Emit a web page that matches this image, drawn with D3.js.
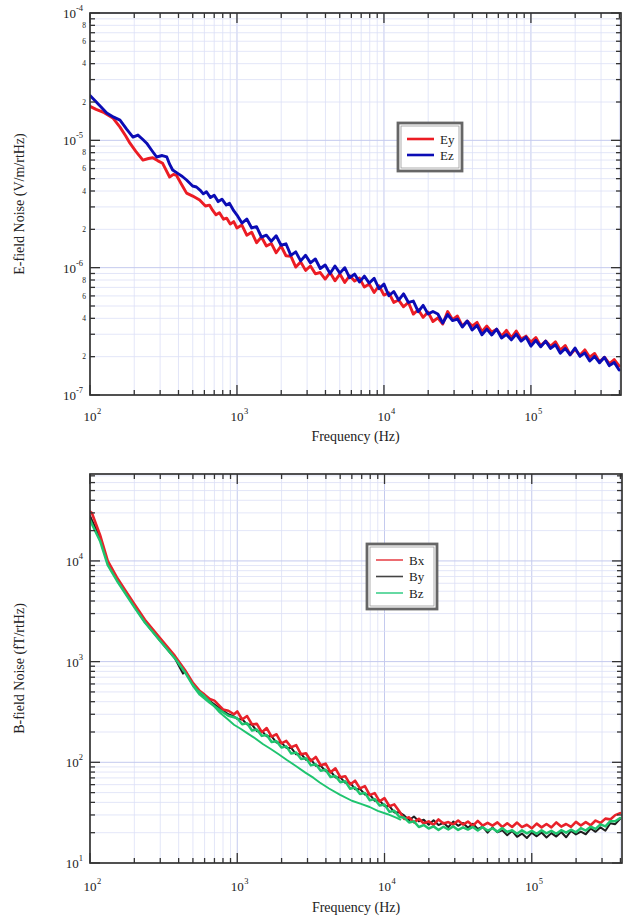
<!DOCTYPE html>
<html><head><meta charset="utf-8">
<script src="https://cdn.jsdelivr.net/npm/d3@7"></script>
<style>body{margin:0;background:#fff} text{font-family:"Liberation Serif","Times New Roman",serif;fill:#222}</style>
</head><body><svg id="c" width="628" height="918"></svg>
<script>
// ---------- shared high-frequency grid (Hz) ----------
const freqHi = [1000,1080,1166,1259,1359,1468,1585,1711,1848,1995,2154,2326,2512,2712,2929,3162,3415,3687,3981,4299,4642,5012,5412,5843,6310,6813,7356,7943,8577,9261,
10000,10800,11660,12590,13590,14680,15850,17110,18480,19950,21540,23260,25120,27120,29290,31620,34150,36870,39810,42990,46420,50120,54120,58430,63100,68130,73560,79430,85770,92610,
100000,108000,116600,125900,135900,146800,158500,171100,184800,199500,215400,232600,251200,271200,292900,316200,341500,368700,398100];

// ---------- E-field (V/m/rtHz) ----------
const eyLowF = [100,110,125,143,160,175,187,205,229,250,267,290,312,330,348,370,388,420,454,500,557,610,650,682,720,760,810,850,900,950];
const eyLow = [1.85e-5,1.75e-5,1.65e-5,1.50e-5,1.27e-5,1.08e-5,9.5e-6,8.2e-6,7.0e-6,7.2e-6,7.3e-6,6.9e-6,6.6e-6,5.8e-6,5.15e-6,5.4e-6,5.3e-6,4.5e-6,3.85e-6,3.65e-6,3.40e-6,3.05e-6,3.10e-6,2.83e-6,2.60e-6,2.70e-6,2.40e-6,2.45e-6,2.20e-6,2.30e-6];
const eyHi = [2.05e-6,2.16e-6,1.80e-6,1.90e-6,1.57e-6,1.74e-6,1.48e-6,1.55e-6,1.31e-6,1.48e-6,
1.24e-6,1.23e-6,1.01e-6,1.11e-6,9.52e-7,1.03e-6,8.95e-7,9.16e-7,8.14e-7,9.16e-7,
7.89e-7,8.90e-7,7.66e-7,8.64e-7,7.85e-7,8.28e-7,7.04e-7,7.43e-7,6.39e-7,7.21e-7,
6.09e-7,6.35e-7,5.33e-7,5.57e-7,4.93e-7,5.33e-7,4.32e-7,4.67e-7,4.07e-7,4.48e-7,
3.78e-7,4.03e-7,3.61e-7,4.52e-7,3.91e-7,4.17e-7,3.48e-7,3.81e-7,3.48e-7,3.72e-7,
3.14e-7,3.48e-7,3.12e-7,3.29e-7,2.90e-7,3.22e-7,2.81e-7,3.18e-7,2.75e-7,2.90e-7,
2.60e-7,2.83e-7,2.43e-7,2.65e-7,2.41e-7,2.62e-7,2.25e-7,2.45e-7,2.07e-7,2.29e-7,
2.05e-7,2.26e-7,1.98e-7,2.12e-7,1.82e-7,1.98e-7,1.76e-7,1.90e-7,1.69e-7];

const ezLowF = [100,115,130,145,160,178,196,212,228,243,262,284,310,333,348,365,395,425,454,499,530,560,590,620,660,700,745,790,846,890,950];
const ezLow = [2.25e-5,1.90e-5,1.64e-5,1.52e-5,1.44e-5,1.22e-5,1.06e-5,1.10e-5,1.02e-5,9.5e-6,8.4e-6,7.4e-6,7.6e-6,7.4e-6,6.5e-6,5.85e-6,5.5e-6,5.2e-6,4.88e-6,4.38e-6,4.3e-6,4.07e-6,3.80e-6,3.95e-6,3.55e-6,3.70e-6,3.30e-6,3.45e-6,3.10e-6,3.20e-6,2.80e-6];
const ezHi = [2.59e-6,2.24e-6,2.41e-6,2.05e-6,2.10e-6,1.74e-6,1.80e-6,1.61e-6,1.78e-6,1.50e-6,
1.54e-6,1.25e-6,1.33e-6,1.13e-6,1.25e-6,1.09e-6,1.17e-6,9.85e-7,1.05e-6,9.00e-7,
1.03e-6,9.06e-7,1.00e-6,8.33e-7,8.90e-7,7.71e-7,8.59e-7,7.57e-7,8.24e-7,6.83e-7,
7.43e-7,6.02e-7,6.50e-7,5.57e-7,6.23e-7,5.33e-7,5.47e-7,4.51e-7,5.06e-7,4.32e-7,
4.53e-7,4.33e-7,3.68e-7,4.28e-7,3.84e-7,3.95e-7,3.42e-7,3.81e-7,3.24e-7,3.52e-7,
2.97e-7,3.29e-7,2.96e-7,3.29e-7,2.80e-7,2.99e-7,2.71e-7,3.01e-7,2.65e-7,2.85e-7,
2.42e-7,2.69e-7,2.39e-7,2.65e-7,2.32e-7,2.48e-7,2.13e-7,2.32e-7,2.07e-7,2.34e-7,
2.01e-7,2.14e-7,1.85e-7,2.01e-7,1.79e-7,1.98e-7,1.70e-7,1.80e-7,1.57e-7];

// ---------- B-field (fT/rtHz) ----------
const bxLowF = [100,103,117,132,152,173,202,236,298,377,440,500,557,600,651,700,761,800,870,950];
const bxLow = [31000,29900,18100,10000,6900,5150,3650,2600,1720,1140,830,615,510,470,425,410,362,335,325,300];
const bxHi = [320,266,288,238,241,199,219,180,190,154,
163,141,148,120,123,103,113,93.7,96.9,79.5,
87.2,71.2,72.8,60.3,65.6,55.1,58.0,47.2,49.4,40.9,
44.1,36.6,38.2,32.7,27.4,28.4,25.3,27.5,24.7,25.9,
23.9,27.1,24.7,25.5,24.1,26.4,24.1,25.8,23.4,26.2,
23.5,25.1,23.5,25.3,22.8,24.8,22.8,25.2,22.7,24.0,
22.1,24.6,22.6,24.4,22.6,25.3,23.0,24.4,22.8,25.6,
23.6,25.5,23.7,26.4,25.0,27.6,27.1,29.9,31.3];

const byLowF = [100,117,132,152,173,202,236,298,377,428,445,500,557,651,761,870,950];
const byLow = [28000,17000,9500,6600,4900,3480,2470,1630,1080,760,800,585,485,405,344,300,285];
const byHi = [270,268,238,237,204,205,181,181,157,157,
139,139,120,121,106,107,92.2,92.5,81.6,81.8,
70.7,71.0,62.5,62.7,54.1,54.4,47.9,48.0,41.5,41.7,
36.8,36.8,31.8,31.9,29.7,26.6,29.0,25.9,26.9,24.0,
26.6,23.8,25.1,22.7,25.8,23.4,25.0,22.4,24.5,21.8,
22.9,20.0,22.6,20.2,21.1,18.9,20.8,18.2,19.6,17.7,
20.0,18.4,20.1,17.9,19.8,18.3,20.3,18.0,20.8,19.2,
20.5,19.3,22.0,20.4,22.6,20.9,24.8,24.3,27.5];

const bzLowF = [100,117,132,152,173,202,236,298,377,440,500,557,651,761,870,950];
const bzLow = [25500,15800,9100,6400,4800,3400,2450,1620,1080,790,580,470,390,330,290,280];
const bzHi = [274,239,244,207,212,183,187,159,162,140,
144,122,125,108,110,93.2,95.5,82.5,84.4,71.4,
73.2,63.3,64.7,54.7,56.1,48.5,49.7,42.0,43.1,37.2,
38.1,32.2,33.0,28.8,28.2,25.3,25.9,22.8,23.8,22.0,
23.1,21.3,22.9,21.5,23.1,21.3,22.6,21.5,22.8,21.0,
22.7,21.0,22.1,20.5,22.2,20.3,21.2,19.5,21.1,19.7,
20.9,19.5,21.1,19.7,20.9,19.5,21.2,20.0,21.4,20.2,
22.2,21.0,22.9,21.8,24.2,23.1,26.0,26.0,28.0];
// second Bz sweep (500 Hz - 13 kHz)
const bz2F = [500,531,600,680,760,850,950,1060,1160,1300,1500,1700,1900,2160,2500,2900,3300,3630,4200,5000,6000,7000,7930,9000,10500,12100,12800];
const bz2 = [590,530,455,375,312,272,236,214,196,176,151,135,121,106,92,79,70,63,55,47.5,41.5,38.5,36,33,30.5,28,27];

const eLegend = ["Ey","Ez"];
const bLegend = ["Bx","By","Bz"];

// ---------- drawing ----------
const svg = d3.select('#c');
svg.append('rect').attr('width',628).attr('height',918).attr('fill','#fff');
const isMaj = v => Math.abs(Math.log10(v) - Math.round(Math.log10(v))) < 1e-9;
const mant = v => Math.round(v / Math.pow(10, Math.floor(Math.log10(v) + 1e-9)));
let clipId = 0;

function panel(cfg){
  const {x, y, series, minorLabels, ytitle, xlabBase, xtitleBase, legend} = cfg;
  const [xl, xr] = x.range(), [yb, yt] = y.range();
  const g = svg.append('g');
  const xd = x.domain(), yd = y.domain();
  const xt = x.ticks().filter(v => v >= xd[0]*0.999 && v <= xd[1]);
  const ytk = y.ticks().filter(v => v >= yd[0]*0.999 && v <= yd[1]);
  // grid
  g.selectAll('.gx').data(xt.filter(v=>v>xd[0]*1.001)).join('line')
    .attr('x1',d=>x(d)).attr('x2',d=>x(d)).attr('y1',yt).attr('y2',yb)
    .attr('stroke',d=>isMaj(d)?'#c4caee':'#dce0f6').attr('stroke-width',d=>isMaj(d)?1:0.8);
  g.selectAll('.gy').data(ytk.filter(v=>v>yd[0]*1.001)).join('line')
    .attr('y1',d=>y(d)).attr('y2',d=>y(d)).attr('x1',xl).attr('x2',xr)
    .attr('stroke',d=>isMaj(d)?'#c4caee':'#dce0f6').attr('stroke-width',d=>isMaj(d)?1:0.8);
  // clip
  const id = 'clip' + (clipId++);
  svg.append('clipPath').attr('id', id).append('rect')
    .attr('x', xl).attr('y', yt).attr('width', xr-xl).attr('height', yb-yt);
  const line = d3.line().x(d=>x(d[0])).y(d=>y(d[1]));
  const sg = g.append('g').attr('clip-path', `url(#${id})`);
  series.forEach(s => {
    sg.append('path').attr('d', line(d3.zip(s.f, s.v)))
      .attr('fill','none').attr('stroke', s.color).attr('stroke-width', s.w)
      .attr('stroke-linejoin','round').attr('stroke-linecap','round');
  });
  // frame
  g.append('rect').attr('x',xl).attr('y',yt).attr('width',xr-xl).attr('height',yb-yt)
    .attr('fill','none').attr('stroke','#333').attr('stroke-width',1.7);
  // ticks
  const tk = g.append('g').attr('stroke','#333').attr('stroke-width',1.3);
  xt.forEach(v => {
    const L = isMaj(v) ? 10 : 5, px = x(v);
    tk.append('line').attr('x1',px).attr('x2',px).attr('y1',yb).attr('y2',yb-L);
    tk.append('line').attr('x1',px).attr('x2',px).attr('y1',yt).attr('y2',yt+L);
  });
  ytk.forEach(v => {
    const L = isMaj(v) ? 10 : 5, py = y(v);
    tk.append('line').attr('x1',xl).attr('x2',xl+L).attr('y1',py).attr('y2',py);
    tk.append('line').attr('x1',xr).attr('x2',xr-L).attr('y1',py).attr('y2',py);
  });
  // x labels
  xt.filter(isMaj).forEach(v => {
    const e = Math.round(Math.log10(v)), px = x(v);
    g.append('text').attr('x',px).attr('y',xlabBase).attr('text-anchor','middle')
      .attr('font-size',13).text('10');
    g.append('text').attr('x',px+7).attr('y',xlabBase-7).attr('font-size',8.5).text(e);
  });
  // y labels
  ytk.filter(isMaj).forEach(v => {
    const e = Math.round(Math.log10(v)), py = y(v);
    const t = g.append('text').attr('x',83).attr('y',py+5).attr('text-anchor','end').attr('font-size',13);
    t.append('tspan').text('10');
    t.append('tspan').attr('dy',-7).attr('font-size',8.5).text(e);
  });
  if (minorLabels) {
    ytk.filter(v => !isMaj(v) && [2,4,6,8].includes(mant(v))).forEach(v => {
      g.append('text').attr('x',86).attr('y',y(v)+2.8).attr('text-anchor','end')
        .attr('font-size',7.5).attr('fill','#444').text(mant(v));
    });
  }
  // titles
  g.append('text').attr('x',(xl+xr)/2).attr('y',xtitleBase).attr('text-anchor','middle')
    .attr('font-size',14).text('Frequency (Hz)');
  g.append('text').attr('transform',`translate(21,${(yb+yt)/2}) rotate(-90)`)
    .attr('text-anchor','middle').attr('dominant-baseline','middle')
    .attr('font-size',14).text(ytitle);
  // legend
  const lg = g.append('g');
  lg.append('rect').attr('x',legend.x).attr('y',legend.y).attr('width',legend.w).attr('height',legend.h)
    .attr('fill','#fff').attr('stroke','#666').attr('stroke-width',2.8);
  lg.append('rect').attr('x',legend.x+3).attr('y',legend.y+3).attr('width',legend.w-6).attr('height',legend.h-6)
    .attr('fill','none').attr('stroke','#999').attr('stroke-width',0.8);
  legend.items.forEach((it, i) => {
    const yy = legend.y + legend.first + i*legend.step;
    lg.append('line').attr('x1',legend.x+9).attr('x2',legend.x+36).attr('y1',yy).attr('y2',yy)
      .attr('stroke',it.color).attr('stroke-width',it.w);
    lg.append('text').attr('x',legend.x+42).attr('y',yy+4.5).attr('font-size',13).text(it.name);
  });
}

const RED = '#ec1c24', BLUE = '#0b0cb5';
panel({
  x: d3.scaleLog().domain([100, 4.1e5]).range([90, 621]),
  y: d3.scaleLog().domain([1e-7, 1e-4]).range([395, 13]),
  series: [
    {f: eyLowF.concat(freqHi), v: eyLow.concat(eyHi), color: RED, w: 2.9},
    {f: ezLowF.concat(freqHi), v: ezLow.concat(ezHi), color: BLUE, w: 2.9}
  ],
  minorLabels: true,
  ytitle: 'E-field Noise (V/m/rtHz)',
  xlabBase: 421, xtitleBase: 441,
  legend: {x: 398, y: 123, w: 64, h: 48, first: 16, step: 16,
    items: [{name: eLegend[0], color: RED, w: 2.6}, {name: eLegend[1], color: BLUE, w: 2.6}]}
});

const BR = '#e8222a', BK = '#1e1e1e', BG = '#1fc46f';
panel({
  x: d3.scaleLog().domain([100, 4.1e5]).range([90, 622]),
  y: d3.scaleLog().domain([10, 7.3e4]).range([863, 474]),
  series: [
    {f: byLowF.concat(freqHi), v: byLow.concat(byHi), color: BK, w: 2},
    {f: bxLowF.concat(freqHi), v: bxLow.concat(bxHi), color: BR, w: 2.6},
    {f: bz2F, v: bz2, color: BG, w: 1.9},
    {f: bzLowF.concat(freqHi), v: bzLow.concat(bzHi), color: BG, w: 2.5}
  ],
  minorLabels: false,
  ytitle: 'B-field Noise (fT/rtHz)',
  xlabBase: 891, xtitleBase: 912,
  legend: {x: 367, y: 544, w: 70, h: 65, first: 16, step: 16.5,
    items: [{name: bLegend[0], color: '#e8474d', w: 1.6}, {name: bLegend[1], color: '#444', w: 1.6}, {name: bLegend[2], color: '#3fd08c', w: 1.6}]}
});
</script>
</body></html>
